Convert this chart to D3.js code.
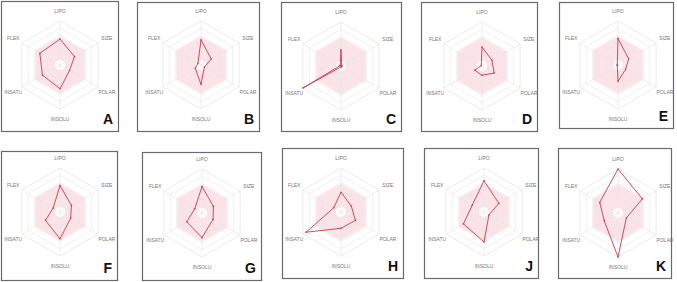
<!DOCTYPE html>
<html>
<head>
<meta charset="utf-8">
<script src="https://cdn.jsdelivr.net/npm/d3@7"></script>
<style>
  body { margin: 0; background: #fff; }
  svg { display: block; }
</style>
</head>
<body>
<svg id="radars" width="677" height="282"></svg>
<script>
// axis names, clockwise from top
var axes = ['LIPO', 'SIZE', 'POLAR', 'INSOLU', 'INSATU', 'FLEX'];
var panels = ['A', 'B', 'C', 'D', 'E', 'F', 'G', 'H', 'J', 'K'];

// values per axis (fraction of the outer ring), one per panel
var lipo   = [0.59, 0.57, 0.37, 0.43, 0.60, 0.60, 0.60, 0.45, 0.71, 1.00];
var size   = [0.38, 0.27, 0.02, 0.26, 0.28, 0.30, 0.30, 0.27, 0.39, 0.64];
var polar  = [0.25, 0.09, 0.02, 0.32, 0.20, 0.28, 0.29, 0.38, 0.13, 0.22];
var insolu = [0.54, 0.44, 0.02, 0.21, 0.37, 0.61, 0.56, 0.37, 0.68, 1.00];
var insatu = [0.46, 0.15, 1.00, 0.19, 0.02, 0.38, 0.40, 0.92, 0.54, 0.36];
var flex   = [0.53, 0.08, 0.02, 0.02, 0.02, 0.18, 0.19, 0.19, 0.31, 0.48];

// optimal (pink) band
var bandInner = 0.13;
var bandOuter = 0.65;

// panel frames [x1, y1, x2, y2] and radar centre
var frames = [
  [1, 1, 118, 131], [137, 2, 259, 131], [281, 2, 401, 131], [421, 2, 537, 131], [559, 2, 673, 128],
  [1, 151, 117, 280], [142, 152, 261, 280], [282, 148, 403, 278], [424, 148, 538, 278], [558, 148, 671, 278]
];
var centers = [
  [60, 65], [201, 65], [341, 66], [482, 66], [618, 65],
  [60, 212], [202, 213], [341, 212], [484, 212], [618, 213]
];

var svg = d3.select('#radars');
var R = 44;
var rScale = d3.scaleLinear().domain([0, 1]).range([0, R]);
var angle = d3.scalePoint().domain(axes).range([0, 360 * 5 / 6]);

function pt(axis, v) {
  var a = angle(axis) * Math.PI / 180;
  return [Math.sin(a) * rScale(v), -Math.cos(a) * rScale(v)];
}

function hexPoints(v) {
  return axes.map(function(ax) { return pt(ax, v); });
}

var line = d3.line().curve(d3.curveLinearClosed);

panels.forEach(function(name, i) {
  var f = frames[i];
  svg.append('rect')
    .attr('x', f[0] + 0.5).attr('y', f[1] + 0.5)
    .attr('width', f[2] - f[0]).attr('height', f[3] - f[1])
    .attr('fill', '#fff')
    .attr('stroke', '#6a6a6a')
    .attr('stroke-width', 1.2);

  var g = svg.append('g')
    .attr('transform', 'translate(' + centers[i] + ')');

  // pink band with a white hole in the middle
  g.append('path')
    .attr('d', line(hexPoints(bandOuter)) + line(hexPoints(bandInner).reverse()))
    .attr('fill', '#fbe3e8')
    .attr('fill-rule', 'evenodd');

  // grid rings
  d3.range(1, 7).forEach(function(k) {
    g.append('path')
      .attr('d', line(hexPoints(k / 6)))
      .attr('fill', 'none')
      .attr('stroke', k === 6 ? '#dedede' : '#e8e8e8')
      .attr('stroke-width', 0.6);
  });

  // spokes
  g.selectAll('.spoke')
    .data(axes)
    .enter().append('line')
    .attr('class', 'spoke')
    .attr('x1', 0).attr('y1', 0)
    .attr('x2', function(d) { return pt(d, 1)[0]; })
    .attr('y2', function(d) { return pt(d, 1)[1]; })
    .attr('stroke', '#e4e4e4')
    .attr('stroke-width', 0.6);

  // axis labels
  g.selectAll('.lbl')
    .data(axes)
    .enter().append('text')
    .attr('class', 'lbl')
    .attr('x', function(d) { return pt(d, 1.23)[0]; })
    .attr('y', function(d) { return pt(d, 1.23)[1]; })
    .attr('text-anchor', 'middle')
    .attr('dominant-baseline', 'central')
    .attr('font-family', 'Liberation Sans, Arial, sans-serif')
    .attr('font-size', 5)
    .attr('fill', '#777')
    .text(function(d) { return d; });

  // compound values
  var vals = [lipo[i], size[i], polar[i], insolu[i], insatu[i], flex[i]];
  var pts = axes.map(function(ax, j) { return pt(ax, vals[j]); });
  g.append('path')
    .attr('d', line(pts))
    .attr('fill', 'none')
    .attr('stroke', '#cc3a48')
    .attr('stroke-width', 0.9)
    .attr('stroke-linejoin', 'round');
  g.selectAll('.dot')
    .data(pts)
    .enter().append('circle')
    .attr('class', 'dot')
    .attr('cx', function(d) { return d[0]; })
    .attr('cy', function(d) { return d[1]; })
    .attr('r', 0.8)
    .attr('fill', '#cc3a48');

  // panel letter
  svg.append('text')
    .attr('x', f[2] - 5)
    .attr('y', f[3] - 7)
    .attr('text-anchor', 'end')
    .attr('font-family', 'Liberation Sans, Arial, sans-serif')
    .attr('font-size', 14)
    .attr('font-weight', 'bold')
    .attr('fill', '#111')
    .text(name);
});
</script>
</body>
</html>
